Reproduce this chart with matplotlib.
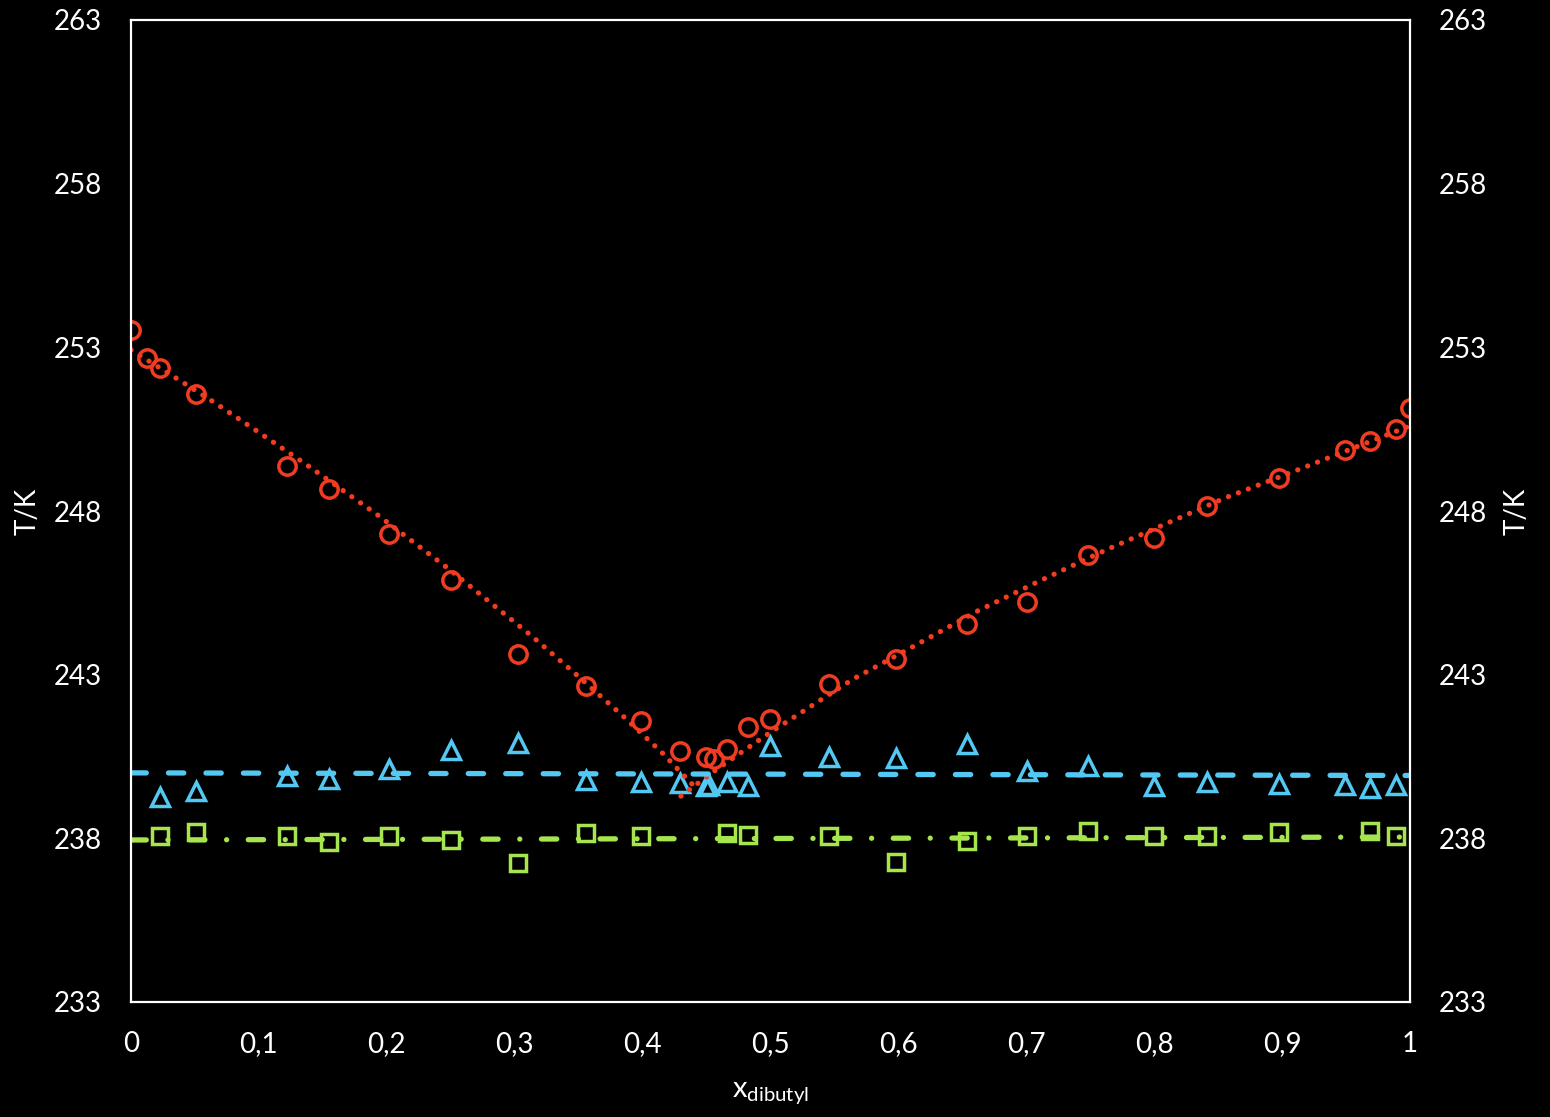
import matplotlib
matplotlib.use('Agg')
import matplotlib.pyplot as plt
from matplotlib.ticker import FuncFormatter

plt.rcParams['font.family'] = ['Lato', 'DejaVu Sans']
plt.rcParams['mathtext.fontset'] = 'custom'
plt.rcParams['mathtext.rm'] = 'Lato'
plt.rcParams['mathtext.it'] = 'Lato'

# liquidus points (red circles)
x_liq = [0.0, 0.0125, 0.0227, 0.051, 0.122, 0.155, 0.2017, 0.250, 0.3026, 0.3557,
         0.3988, 0.4292, 0.4496, 0.4558, 0.466, 0.4824, 0.4996, 0.5457, 0.598,
         0.6536, 0.7005, 0.748, 0.800, 0.841, 0.8976, 0.949, 0.9687, 0.989, 1.0]
T_liq = [253.53, 252.67, 252.37, 251.57, 249.37, 248.67, 247.30, 245.89, 243.63, 242.65,
         241.58, 240.67, 240.48, 240.42, 240.73, 241.40, 241.65, 242.71, 243.48,
         244.55, 245.22, 246.66, 247.17, 248.15, 249.01, 249.86, 250.14, 250.50, 251.15]

# eutectic points (green squares)
x_eut = [0.0227, 0.051, 0.122, 0.155, 0.2017, 0.250, 0.3026, 0.3557, 0.3988, 0.466,
         0.4824, 0.5457, 0.598, 0.6536, 0.7005, 0.748, 0.800, 0.841, 0.8976, 0.9687, 0.989]
T_eut = [238.07, 238.19, 238.07, 237.89, 238.07, 237.95, 237.25, 238.16, 238.07, 238.16,
         238.10, 238.07, 237.28, 237.92, 238.07, 238.22, 238.07, 238.07, 238.19, 238.22, 238.07]

# solid-solid transition points (blue triangles)
x_tr = [0.0227, 0.051, 0.122, 0.155, 0.2017, 0.250, 0.3026, 0.3557, 0.3988, 0.4292,
        0.4496, 0.452, 0.466, 0.4824, 0.4996, 0.5457, 0.598, 0.6536, 0.7005, 0.748,
        0.800, 0.841, 0.8976, 0.949, 0.9687, 0.989]
T_tr = [239.26, 239.45, 239.90, 239.81, 240.12, 240.70, 240.91, 239.78, 239.72, 239.69,
        239.60, 239.62, 239.72, 239.60, 240.82, 240.48, 240.45, 240.88, 240.06, 240.21,
        239.60, 239.72, 239.66, 239.63, 239.54, 239.63]

# liquidus curves
x_left = [0.0, 0.0365, 0.0654, 0.0936, 0.1363, 0.1921, 0.2468, 0.2801, 0.3130, 0.3456,
          0.3837, 0.4149, 0.4386]
T_left = [252.92, 252.03, 251.31, 250.57, 249.44, 247.90, 246.28, 245.23, 244.19, 243.09,
          241.77, 240.63, 239.66]
x_right = [0.4300, 0.4572, 0.4996, 0.5648, 0.6097, 0.6621, 0.7081, 0.7623, 0.8097,
           0.8568, 0.9131, 0.9601, 1.0]
T_right = [239.29, 240.09, 241.23, 242.87, 243.82, 244.95, 245.82, 246.81, 247.62,
           248.42, 249.27, 249.99, 250.60]

x_eut_line = [0.0, 1.0]
T_eut_line = [237.95, 238.04]
x_tr_line = [0.0, 1.0]
T_tr_line = [240.00, 239.92]

red = '#F23C22'
blue = '#52C8F2'
green = '#A6E54E'

fig = plt.figure(figsize=(15.5, 11.17), dpi=100, facecolor='black')
ax = fig.add_axes([131/1550, 1 - 1002/1117, 1279/1550, 982/1117])
ax.set_facecolor('black')

ms = 12.5
mew = 2.5
ax.plot(x_liq, T_liq, 'o', ms=ms, mfc='none', mec=red, mew=mew)
ax.plot(x_tr, T_tr, '^', ms=ms + 1, mfc='none', mec=blue, mew=mew)
ax.plot(x_eut, T_eut, 's', ms=ms - 1, mfc='none', mec=green, mew=mew)

lw = 3.8
ax.plot(x_left, T_left, color=red, lw=lw, dashes=(0.01, 2.0), dash_capstyle='round')
ax.plot(x_right, T_right, color=red, lw=lw, dashes=(0.01, 2.0), dash_capstyle='round')
ax.plot(x_tr_line, T_tr_line, color=blue, lw=lw, dashes=(2.9, 4.2), dash_capstyle='round')
ax.plot(x_eut_line, T_eut_line, color=green, lw=lw, dashes=(2.9, 4.1, 0.01, 4.1),
        dash_capstyle='round')

ax.set_xlim(0, 1)
ax.set_ylim(233, 263)
ax.set_xticks([i / 10 for i in range(11)])
ax.set_yticks(range(233, 264, 5))
ax.xaxis.set_major_formatter(FuncFormatter(lambda v, p: ('%g' % round(v, 1)).replace('.', ',')))

for s in ax.spines.values():
    s.set_color('white')
    s.set_linewidth(1.6)

ax.tick_params(axis='both', length=0, colors='white', labelsize=20, pad=21)
ax.tick_params(axis='y', labelright=True)

# axis titles on both sides
ax.text(-0.081, 0.5, 'T/K', transform=ax.transAxes, rotation=90, color='white',
        fontsize=20, ha='center', va='center')
ax.text(1.083, 0.5, 'T/K', transform=ax.transAxes, rotation=90, color='white',
        fontsize=20, ha='center', va='center')
ax.set_xlabel(r'x$_{\mathrm{dibutyl}}$', color='white', fontsize=21)
ax.xaxis.set_label_coords(0.5, -0.079)

fig.savefig('out.png', dpi=100, facecolor='black')
